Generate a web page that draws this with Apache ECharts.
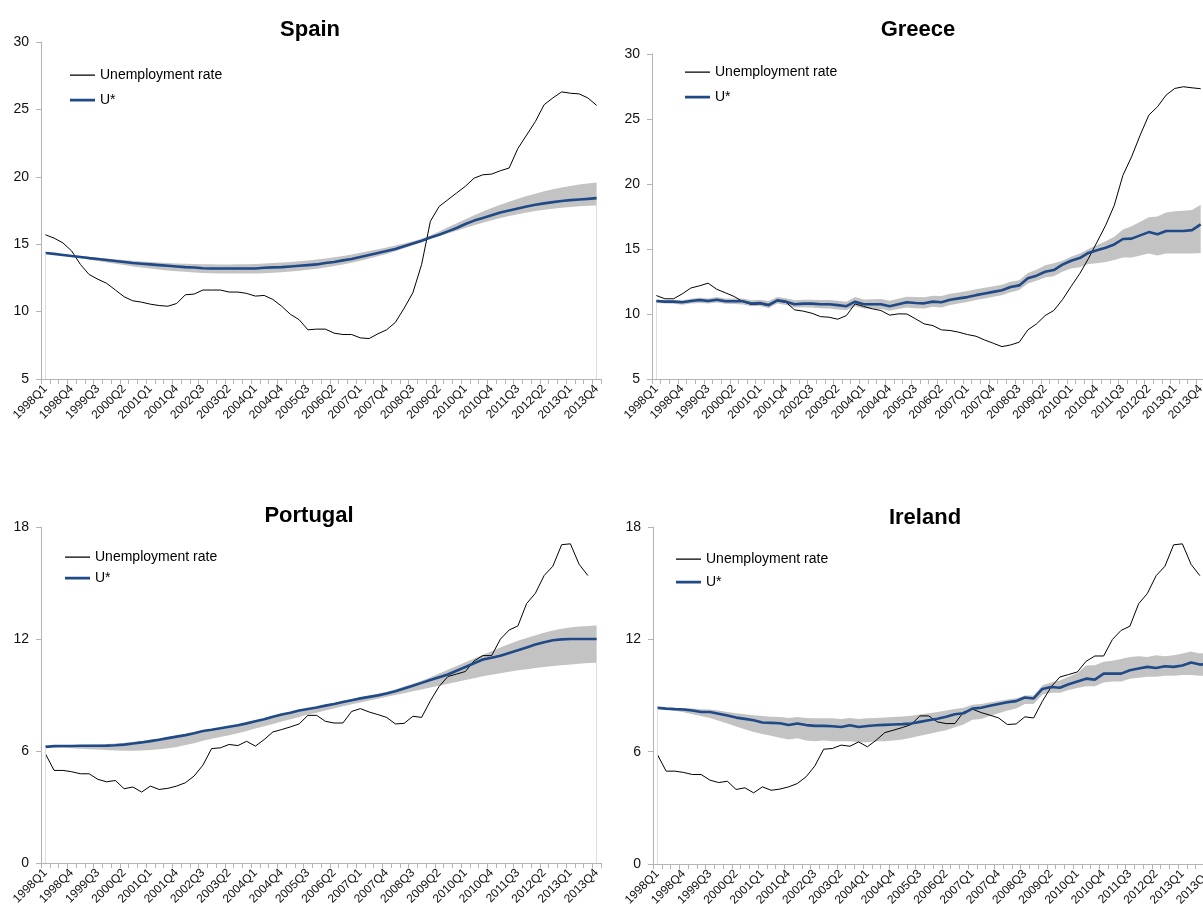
<!DOCTYPE html>
<html><head><meta charset="utf-8">
<script src="https://cdn.jsdelivr.net/npm/echarts@6/dist/echarts.min.js"></script>
<style>html,body{margin:0;padding:0;background:#fff;overflow:hidden}#c{width:1215px;height:918px}</style>
</head><body><div id="c"></div>
<script>
// Categories: 1998Q1 .. 2013Q4
const quarters = [];
for (let y = 1998; y <= 2013; y++) for (let q = 1; q <= 4; q++) quarters.push(y + 'Q' + q);

const countries = ['Spain', 'Greece', 'Portugal', 'Ireland'];

const spainRate = [15.7,15.45,15.1,14.5,13.5,12.75,12.4,12.1,11.6,11.1, 10.8,10.7,10.55,10.45,10.4,10.6,11.25,11.3,11.6,11.6, 11.6,11.45,11.45,11.35,11.15,11.2,10.9,10.4,9.8,9.4, 8.65,8.7,8.7,8.4,8.3,8.3,8.05,8.0,8.35,8.65, 9.2,10.25,11.4,13.5,16.7,17.8,18.3,18.8,19.3,19.9, 20.15,20.2,20.45,20.65,22.1,23.1,24.1,25.35,25.85,26.3, 26.2,26.15,25.85,25.3];
const spainU = [14.35,14.28,14.2,14.12,14.05,13.97,13.9,13.83,13.75,13.68, 13.6,13.55,13.5,13.45,13.4,13.35,13.3,13.27,13.22,13.2, 13.2,13.2,13.2,13.2,13.2,13.25,13.28,13.3,13.35,13.4, 13.45,13.5,13.6,13.68,13.8,13.9,14.05,14.2,14.35,14.5, 14.65,14.85,15.05,15.25,15.5,15.7,15.95,16.2,16.5,16.75, 16.95,17.15,17.35,17.5,17.65,17.8,17.92,18.03,18.12,18.2, 18.27,18.32,18.36,18.42];
const spainLow = [14.35,14.25,14.15,14.05,13.95,13.85,13.75,13.65,13.55,13.45, 13.35,13.27,13.2,13.12,13.05,13.0,12.95,12.9,12.87,12.85, 12.83,12.82,12.82,12.82,12.83,12.85,12.88,12.92,12.97,13.03, 13.1,13.18,13.28,13.38,13.5,13.63,13.78,13.93,14.1,14.28, 14.48,14.7,14.92,15.13,15.4,15.6,15.8,16.0,16.2,16.4, 16.6,16.78,16.95,17.1,17.23,17.35,17.46,17.55,17.63,17.7, 17.76,17.81,17.85,17.88];
const spainHigh = [14.38,14.32,14.26,14.19,14.13,14.06,14.0,13.94,13.88,13.82, 13.77,13.72,13.68,13.64,13.6,13.57,13.55,13.53,13.52,13.51, 13.5,13.5,13.51,13.52,13.54,13.57,13.6,13.64,13.68,13.73, 13.79,13.86,13.94,14.03,14.13,14.24,14.36,14.49,14.62,14.76, 14.9,15.06,15.22,15.4,15.65,15.95,16.25,16.55,16.85,17.15, 17.42,17.68,17.92,18.15,18.37,18.57,18.75,18.92,19.07,19.2, 19.32,19.42,19.5,19.58];

const greeceRate = [11.42,11.17,11.17,11.55,12.0,12.17,12.37,11.9,11.63,11.35, 10.96,10.73,10.78,10.63,10.99,10.91,10.32,10.22,10.06,9.8, 9.75,9.6,9.88,10.78,10.58,10.4,10.27,9.91,10.01,10.0, 9.63,9.24,9.11,8.78,8.73,8.6,8.42,8.29,8.0,7.75, 7.49,7.62,7.83,8.78,9.24,9.88,10.27,11.1,12.12,13.1, 14.25,15.53,16.82,18.36,20.67,22.09,23.76,25.3,25.94,26.84, 27.35,27.48,27.4,27.33];
const greeceU = [11.0,10.95,10.95,10.9,11.0,11.08,11.0,11.1,10.98,10.98, 10.98,10.8,10.85,10.7,11.05,10.95,10.75,10.8,10.8,10.75, 10.75,10.68,10.6,10.95,10.75,10.75,10.75,10.6,10.75,10.9, 10.85,10.82,10.95,10.9,11.1,11.2,11.3,11.45,11.58,11.7, 11.82,12.07,12.2,12.75,12.95,13.25,13.38,13.8,14.1,14.3, 14.7,14.9,15.1,15.35,15.77,15.8,16.05,16.3,16.13,16.38, 16.38,16.38,16.45,16.9];
const greeceLow = [10.85,10.8,10.78,10.72,10.8,10.85,10.8,10.88,10.78,10.76, 10.74,10.6,10.62,10.45,10.8,10.7,10.5,10.52,10.5,10.45, 10.42,10.35,10.28,10.6,10.42,10.4,10.38,10.25,10.38,10.5, 10.45,10.42,10.55,10.5,10.7,10.8,10.92,11.07,11.2,11.32, 11.45,11.68,11.85,12.35,12.55,12.8,12.9,13.25,13.5,13.6, 13.85,13.9,14.0,14.15,14.35,14.35,14.5,14.65,14.5,14.65, 14.65,14.65,14.65,14.7];
const greeceHigh = [11.1,11.07,11.08,11.05,11.17,11.25,11.2,11.3,11.2,11.2, 11.2,11.05,11.1,11.0,11.3,11.22,11.05,11.1,11.1,11.07, 11.07,11.02,10.95,11.3,11.12,11.13,11.15,11.02,11.17,11.32, 11.3,11.28,11.4,11.38,11.55,11.65,11.77,11.9,12.02,12.13, 12.25,12.48,12.6,13.15,13.4,13.75,13.9,14.1,14.4,14.65, 15.0,15.3,15.6,15.95,16.5,16.75,17.1,17.45,17.5,17.8, 17.9,17.95,18.0,18.4];

// unemployment rate ends one quarter early (last category empty)
const portugalRate = [5.85,4.96,4.96,4.89,4.78,4.78,4.48,4.35,4.42,3.98, 4.07,3.8,4.12,3.94,4.0,4.12,4.3,4.66,5.24,6.13, 6.17,6.35,6.29,6.52,6.26,6.61,7.02,7.15,7.29,7.45, 7.91,7.91,7.59,7.5,7.5,8.12,8.27,8.09,7.95,7.8, 7.45,7.48,7.86,7.8,8.69,9.46,9.99,10.12,10.26,10.83, 11.11,11.11,11.99,12.48,12.7,13.9,14.45,15.4,15.9,17.05, 17.1,16.0,15.4,null];
const portugalU = [6.22,6.26,6.27,6.27,6.28,6.28,6.28,6.29,6.31,6.34, 6.4,6.46,6.53,6.6,6.69,6.77,6.85,6.95,7.07,7.14, 7.22,7.3,7.38,7.48,7.59,7.7,7.83,7.96,8.05,8.17, 8.25,8.33,8.43,8.52,8.62,8.72,8.82,8.9,8.98,9.08, 9.2,9.35,9.5,9.65,9.8,9.95,10.1,10.3,10.5,10.7, 10.9,11.0,11.1,11.25,11.4,11.55,11.7,11.83,11.93,11.98, 12.0,12.0,12.0,12.0];
const portugalLow = [6.2,6.2,6.18,6.15,6.12,6.1,6.08,6.05,6.03,6.02, 6.02,6.03,6.05,6.1,6.15,6.22,6.32,6.42,6.55,6.65, 6.75,6.85,6.95,7.07,7.2,7.32,7.45,7.58,7.7,7.82, 7.95,8.05,8.17,8.28,8.4,8.5,8.6,8.7,8.8,8.9, 9.0,9.1,9.2,9.3,9.4,9.5,9.6,9.7,9.8,9.9, 10.0,10.08,10.16,10.24,10.32,10.38,10.44,10.5,10.55,10.6, 10.64,10.68,10.71,10.73];
const portugalHigh = [6.23,6.28,6.3,6.31,6.32,6.33,6.35,6.37,6.4,6.43, 6.48,6.53,6.6,6.67,6.75,6.83,6.9,7.0,7.1,7.18, 7.25,7.33,7.42,7.52,7.62,7.73,7.85,7.97,8.07,8.18, 8.28,8.37,8.46,8.56,8.66,8.76,8.86,8.95,9.05,9.17, 9.3,9.45,9.6,9.77,9.95,10.15,10.35,10.55,10.75,10.95, 11.15,11.35,11.55,11.73,11.9,12.05,12.2,12.33,12.45,12.55, 12.62,12.67,12.7,12.72];

const irelandRate = [5.85,4.96,4.96,4.89,4.78,4.78,4.48,4.35,4.42,3.98, 4.07,3.8,4.12,3.94,4.0,4.12,4.3,4.66,5.24,6.13, 6.17,6.35,6.29,6.52,6.26,6.61,7.02,7.15,7.29,7.45, 7.91,7.91,7.59,7.5,7.5,8.12,8.27,8.09,7.95,7.8, 7.45,7.48,7.86,7.8,8.69,9.46,9.99,10.12,10.26,10.83, 11.11,11.11,11.99,12.48,12.7,13.9,14.45,15.4,15.9,17.05, 17.1,16.0,15.4,null];
const irelandU = [8.34,8.3,8.27,8.25,8.2,8.12,8.12,8.03,7.93,7.82, 7.75,7.68,7.56,7.54,7.52,7.42,7.5,7.42,7.38,7.38, 7.36,7.32,7.41,7.32,7.37,7.41,7.43,7.45,7.47,7.5, 7.59,7.68,7.76,7.86,8.0,8.05,8.3,8.35,8.45,8.55, 8.64,8.7,8.89,8.84,9.35,9.45,9.41,9.6,9.75,9.9, 9.85,10.17,10.17,10.17,10.35,10.44,10.53,10.47,10.56,10.53, 10.6,10.76,10.65,10.7];
const irelandLow = [8.32,8.25,8.18,8.1,8.0,7.9,7.8,7.65,7.5,7.35, 7.2,7.05,6.95,6.85,6.75,6.65,6.72,6.6,6.55,6.6, 6.55,6.55,6.55,6.5,6.5,6.55,6.55,6.6,6.65,6.75, 6.85,6.95,7.05,7.15,7.3,7.45,7.7,7.75,7.9,8.05, 8.2,8.3,8.55,8.55,9.05,9.15,9.15,9.3,9.4,9.5, 9.5,9.7,9.75,9.75,9.9,9.95,10.0,10.0,10.05,10.05, 10.1,10.1,10.05,10.05];
const irelandHigh = [8.36,8.34,8.33,8.33,8.3,8.27,8.25,8.2,8.12,8.05, 8.0,7.95,7.9,7.87,7.85,7.8,7.85,7.8,7.78,7.78, 7.78,7.75,7.8,7.75,7.78,7.8,7.82,7.85,7.88,7.92, 7.98,8.05,8.12,8.2,8.28,8.35,8.5,8.55,8.62,8.7, 8.78,8.85,9.0,9.0,9.55,9.7,9.8,10.0,10.2,10.6, 10.62,10.8,10.85,10.95,11.05,11.1,11.05,11.15,11.1,11.15, 11.25,11.35,11.25,11.3];

const yTicks = {Spain: [5, 30, 5], Greece: [5, 30, 5], Portugal: [0, 18, 6], Ireland: [0, 18, 6]};

const panels = [
  {name: 'Spain', rate: spainRate, u: spainU, low: spainLow, high: spainHigh, rightEdge: true},
  {name: 'Greece', rate: greeceRate, u: greeceU, low: greeceLow, high: greeceHigh, rightEdge: false},
  {name: 'Portugal', rate: portugalRate, u: portugalU, low: portugalLow, high: portugalHigh, rightEdge: true},
  {name: 'Ireland', rate: irelandRate, u: irelandU, low: irelandLow, high: irelandHigh, rightEdge: false}
];

// layout (pixels); the right-hand panels run up to / past the visible edge
const grids = [
  {left: 41, top: 42, width: 560, height: 337},
  {left: 652, top: 54, width: 553, height: 325},
  {left: 41, top: 527, width: 560, height: 336},
  {left: 653, top: 527, width: 560, height: 337}
];
const titlePos = [[310, 19], [918, 19], [309, 505], [925, 507]];
const legendPos = [
  {left: 70, top: 68, itemGap: 11},
  {left: 685, top: 65, itemGap: 11},
  {left: 65, top: 550, itemGap: 7},
  {left: 676, top: 552, itemGap: 9}
];

const FONT = 'Liberation Sans';
const AXIS_COLOR = '#b4b4b4';
const BLUE = '#1f4a87';
const BAND = '#c3c3c3';

// legend icons: line glyphs drawn inside a 25x14 box (corner dots fix the box)
const BOX = 'M0,0 h0.01 v0.01 h-0.01 z M24.99,13.99 h0.01 v0.01 h-0.01 z ';
const ICON_THIN = 'path://' + BOX + 'M0,6.4 h25 v1.3 h-25 z';
const ICON_THICK = 'path://' + BOX + 'M0,5.7 h25 v2.7 h-25 z';

const option = {
  backgroundColor: '#fff',
  animation: false,
  title: [], grid: [], xAxis: [], yAxis: [], legend: [], series: []
};

panels.forEach((p, k) => {
  const t = yTicks[p.name];
  option.title.push({text: p.name, left: titlePos[k][0], top: titlePos[k][1], textAlign: 'center', padding: 0,
    textStyle: {fontFamily: FONT, fontWeight: 'bold', fontSize: 22, color: '#000'}});
  option.grid.push(Object.assign({containLabel: false}, grids[k]));
  option.xAxis.push({
    type: 'category', gridIndex: k, data: quarters, boundaryGap: true,
    axisLine: {lineStyle: {color: AXIS_COLOR, width: 1}},
    axisTick: {show: true, interval: 0, length: 5, lineStyle: {color: AXIS_COLOR}},
    axisLabel: {interval: 2, rotate: 45, margin: 8, fontFamily: FONT, fontSize: 12, color: '#111'},
    splitLine: {show: false}
  });
  option.yAxis.push({
    type: 'value', gridIndex: k, min: t[0], max: t[1], interval: t[2],
    axisLine: {show: true, lineStyle: {color: AXIS_COLOR, width: 1}},
    axisTick: {show: true, length: 5, lineStyle: {color: AXIS_COLOR}},
    axisLabel: {margin: 12, fontFamily: FONT, fontSize: 14, color: '#111'},
    splitLine: {show: false}
  });
  option.legend.push(Object.assign({
    orient: 'vertical',
    data: [
      {name: 'Unemployment rate', icon: ICON_THIN, itemStyle: {color: '#000'}},
      {name: 'U*', icon: ICON_THICK, itemStyle: {color: BLUE}}
    ],
    itemWidth: 25, itemHeight: 14,
    textStyle: {fontFamily: FONT, fontSize: 14, color: '#000'},
    selectedMode: false, padding: 0
  }, legendPos[k]));
  const width = p.high.map((h, i) => +(h - p.low[i]).toFixed(3));
  const last = quarters.length - 1;
  const edges = [[{coord: [quarters[0], t[0]]}, {coord: [quarters[0], p.low[0]]}]];
  if (p.rightEdge) edges.push([{coord: [quarters[last], t[0]]}, {coord: [quarters[last], p.low[last]]}]);
  option.series.push({
    name: 'lowerBand' + k, type: 'line', xAxisIndex: k, yAxisIndex: k, data: p.low, stack: 'band' + k,
    symbol: 'none', lineStyle: {opacity: 0}, silent: true, z: 1,
    markLine: {
      silent: true, symbol: 'none', label: {show: false},
      lineStyle: {color: '#dedede', width: 1, type: 'solid'},
      data: edges
    }
  });
  option.series.push({
    name: 'band' + k, type: 'line', xAxisIndex: k, yAxisIndex: k, data: width, stack: 'band' + k,
    symbol: 'none', lineStyle: {opacity: 0}, areaStyle: {color: BAND, opacity: 1}, silent: true, z: 1
  });
  option.series.push({
    name: 'Unemployment rate', type: 'line', xAxisIndex: k, yAxisIndex: k, data: p.rate,
    symbol: 'none', lineStyle: {color: '#000', width: 1}, itemStyle: {color: '#000'}, z: 3
  });
  option.series.push({
    name: 'U*', type: 'line', xAxisIndex: k, yAxisIndex: k, data: p.u,
    symbol: 'none', lineStyle: {color: BLUE, width: 2.6}, itemStyle: {color: BLUE}, z: 4
  });
});

const chart = echarts.init(document.getElementById('c'), null, {renderer: 'canvas'});
chart.setOption(option);
</script>
</body></html>
